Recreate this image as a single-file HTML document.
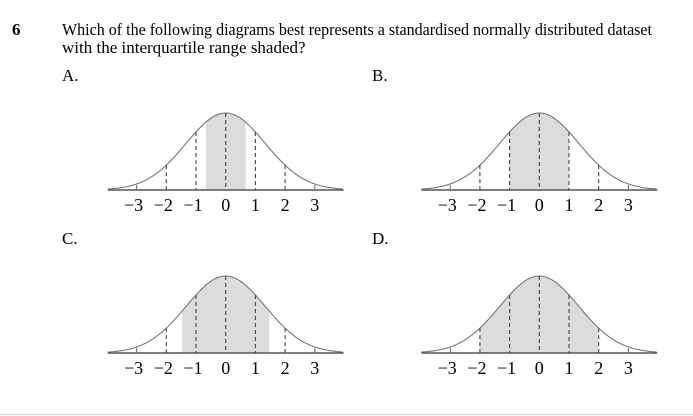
<!DOCTYPE html>
<html><head><meta charset="utf-8"><style>
html,body{margin:0;padding:0;background:#fff;}
svg{display:block;font-family:"Liberation Serif",serif;}
</style></head><body>
<svg id="root" width="693" height="416" viewBox="0 0 693 416">
<text x="12" y="35" font-size="17" font-weight="bold">6</text>
<text x="62" y="35" font-size="17" textLength="590" lengthAdjust="spacingAndGlyphs">Which of the following diagrams best represents a standardised normally distributed dataset</text>
<text x="62" y="53" font-size="17">with the interquartile range shaded?</text>
<text x="62" y="81" font-size="17">A.</text>
<text x="372" y="81" font-size="17">B.</text>
<text x="62" y="244" font-size="17">C.</text>
<text x="372" y="244" font-size="17">D.</text>
<line x1="0" y1="414.5" x2="693" y2="414.5" stroke="#ccc"/>
<g id="charts"></g>
</svg>
<script>
const panelNames = ["a","b","c","d"];
const shadeLow = [-0.67, -1, -1.47, -2];
const shadeHigh = [0.67, 1, 1.47, 2];
const tickValues = [-3,-2,-1,0,1,2,3];
const tickLabels = ["−3","−2","−1","0","1","2","3"];
const centers = [[225.7,190],[539.3,190],[225.7,353],[539.3,353]];
const NS="http://www.w3.org/2000/svg";
const unit=29.7, peak=77, sigma=1.33;
const g=document.getElementById('charts');
function mk(t,a){const e=document.createElementNS(NS,t);for(const k in a)e.setAttribute(k,a[k]);return e;}
function dens(v){return peak*Math.exp(-v*v/(2*sigma*sigma));}
for(let p=0;p<4;p++){
  const cx=centers[p][0], ay=centers[p][1];
  const X=v=>cx+v*unit, Y=v=>ay-dens(v);
  const grp=mk('g',{});
  
  
  let d='M'+X(shadeLow[p])+','+ay;
  for(let v=shadeLow[p];v<=shadeHigh[p]+1e-9;v+=0.02)d+=' L'+X(v).toFixed(2)+','+Y(v).toFixed(2);
  d+=' L'+X(shadeHigh[p])+','+Y(shadeHigh[p])+' L'+X(shadeHigh[p])+','+ay+' Z';
  const sh=mk('path',{d:d,fill:'#dcdcdc'});
  
  
  grp.appendChild(sh);
  let c='';
  for(let v=-3.97;v<=3.97;v+=0.03)c+=(c?' L':'M')+X(v).toFixed(2)+','+Y(v).toFixed(2);
  const cu=mk('path',{d:c,fill:'none',stroke:'#777','stroke-width':1.1});
  
  
  grp.appendChild(cu);
  const ax=mk('line',{x1:X(-3.97),y1:ay,x2:X(3.97),y2:ay,stroke:'#555','stroke-width':1.6});
  
  
  grp.appendChild(ax);
  tickValues.forEach((v,i)=>{
    let ln;
    if(Math.abs(v)===3) ln=mk('line',{x1:X(v),y1:ay-5,x2:X(v),y2:ay,stroke:'#666','stroke-width':1});
    else ln=mk('line',{x1:X(v),y1:Y(v),x2:X(v),y2:ay,stroke:'#444','stroke-width':1.1,'stroke-dasharray':'4,3'});
    
    
    grp.appendChild(ln);
    const t=mk('text',{x:X(v)-(v<0?3:0),y:ay+21,'font-size':18,'text-anchor':'middle'});
    t.textContent=tickLabels[i];
    
    
    grp.appendChild(t);
  });
  g.appendChild(grp);
}
</script>
</body></html>
